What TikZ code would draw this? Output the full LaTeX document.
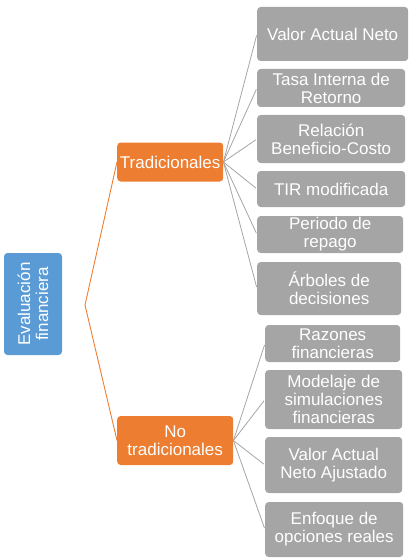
\documentclass[tikz,border=0pt]{standalone}
\usepackage{fontspec}
\setmainfont{Liberation Sans}
\definecolor{rootblue}{HTML}{5B9BD5}
\definecolor{branchorange}{HTML}{ED7D31}
\definecolor{leafgray}{HTML}{A5A5A5}
\tikzset{
  box/.style={rounded corners=3.5pt, text=white, align=center, inner sep=1pt,
    font=\fontsize{17}{18}\selectfont},
  root/.style={box, fill=rootblue, rotate=90, minimum width=102pt, minimum height=58pt},
  branch/.style={box, fill=branchorange, anchor=west},
  leaf/.style={box, fill=leafgray, anchor=west, minimum width=#1},
  leaf/.default=148pt,
}
\begin{document}
\begin{tikzpicture}[x=1pt, y=-1pt]
      \useasboundingbox (0,0) rectangle (409,559);
      \node[root] (eval) at (33,304) {Evaluación\\financiera};
      \coordinate (fork) at (85,305);
      \node[branch, minimum width=106pt, minimum height=39pt] (trad) at (117,162) {Tradicionales};
      \node[branch, minimum width=116pt, minimum height=49pt] (notrad) at (117,440.5) {No\\tradicionales};
      % tradicionales
      \node[leaf=151pt, minimum height=54pt] (van) at (257,34) {Valor Actual Neto};
      \node[leaf, minimum height=38pt] (tir) at (257,88) {Tasa Interna de\\Retorno};
      \node[leaf, minimum height=48pt] (rbc) at (257,139) {Relación\\Beneficio-Costo};
      \node[leaf, minimum height=36pt] (tirm) at (257,189) {TIR modificada};
      \node[leaf=146pt, minimum height=37pt] (prd) at (257,234.5) {Periodo de\\repago};
      \node[leaf=144pt, minimum height=53pt] (arb) at (257,288.5) {Árboles de\\decisiones};
      % no tradicionales
      \node[leaf=135pt, minimum height=37pt] (raz) at (265,343.5) {Razones\\financieras};
      \node[leaf=137pt, minimum height=59pt] (mod) at (265,399.5) {Modelaje de\\simulaciones\\financieras};
      \node[leaf=137pt, minimum height=56pt] (vana) at (265,465) {Valor Actual\\Neto Ajustado};
      \node[leaf=138pt, minimum height=55pt] (opc) at (265,529.5) {Enfoque de\\opciones reales};
      \begin{scope}[draw=branchorange, line width=0.9pt]
        \draw (fork) to (trad.west);
        \draw (fork) to (notrad.west);
      \end{scope}
      \begin{scope}[draw=leafgray, line width=0.8pt, shorten >=1.5pt]
        \draw (trad.east) to (van.west);
        \draw (trad.east) to (tir.west);
        \draw (trad.east) to (rbc.west);
        \draw (trad.east) to (tirm.west);
        \draw (trad.east) to (prd.west);
        \draw (trad.east) to (arb.west);
        \draw (notrad.east) to (raz.west);
        \draw (notrad.east) to (mod.west);
        \draw (notrad.east) to (vana.west);
        \draw (notrad.east) to (opc.west);
      \end{scope}
    \end{tikzpicture}
\end{document}
